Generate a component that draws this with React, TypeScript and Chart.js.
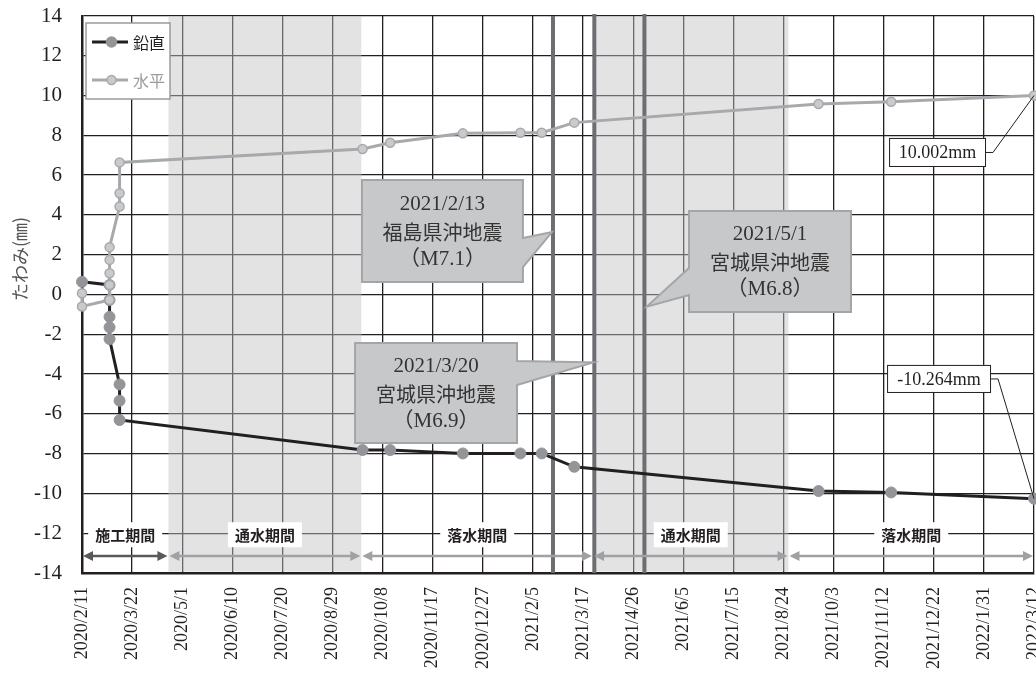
import React, { useEffect, useRef } from 'react';
import { Chart, registerables } from 'chart.js';

Chart.register(...registerables);

// ---------- data ----------
const START_DATE = '2020/2/11';
const END_DATE = '2022/3/12';
const TICK_STEP_DAYS = 40;
const Y_MIN = -14;
const Y_MAX = 14;
const Y_STEP = 2;

const seriesNames = ['鉛直', '水平'];

const verticalDates = ['2020/2/11', '2020/3/4', '2020/3/4', '2020/3/4', '2020/3/4', '2020/3/4', '2020/3/12', '2020/3/12', '2020/3/12', '2020/9/22', '2020/10/14', '2020/12/11', '2021/1/26', '2021/2/12', '2021/3/10', '2021/9/21', '2021/11/18', '2022/3/12'];
const verticalValues = [0.64, 0.48, -0.28, -1.12, -1.65, -2.24, -4.52, -5.34, -6.31, -7.82, -7.82, -7.99, -7.99, -7.99, -8.66, -9.88, -9.95, -10.264];

const horizontalDates = ['2020/2/11', '2020/2/11', '2020/3/4', '2020/3/4', '2020/3/4', '2020/3/4', '2020/3/4', '2020/3/12', '2020/3/12', '2020/3/12', '2020/9/22', '2020/10/14', '2020/12/11', '2021/1/26', '2021/2/12', '2021/3/10', '2021/9/21', '2021/11/18', '2022/3/12'];
const horizontalValues = [0.06, -0.6, -0.28, 0.48, 1.07, 1.74, 2.38, 4.42, 5.09, 6.64, 7.31, 7.63, 8.10, 8.13, 8.13, 8.64, 9.58, 9.69, 10.002];

const periodNames = ['施工期間', '通水期間', '落水期間', '通水期間', '落水期間'];
const periodStarts = ['2020/2/11', '2020/4/20', '2020/9/21', '2021/3/25', '2021/8/28'];
const periodEnds = ['2020/4/20', '2020/9/21', '2021/3/25', '2021/8/28', '2022/3/12'];
const periodShaded = [false, true, false, true, false];

const quakeDates = ['2021/2/13', '2021/3/20', '2021/5/1'];
const quakeNames = ['福島県沖地震', '宮城県沖地震', '宮城県沖地震'];
const quakeMagnitudes = ['（M7.1）', '（M6.9）', '（M6.8）'];
const quakeLineDates = ['2021/2/21', '2021/3/26', '2021/5/5'];

const endValueLabels = ['10.002mm', '-10.264mm'];
const yAxisTitle = 'たわみ(㎜)';

// ---------- helpers ----------
const toUTC = (s: string) => {
  const [y, m, d] = s.split('/').map(Number);
  return Date.UTC(y, m - 1, d);
};
const DAY = 86400000;
const dayOf = (s: string) => Math.round((toUTC(s) - toUTC(START_DATE)) / DAY);
const fmtDay = (n: number) => {
  const dt = new Date(toUTC(START_DATE) + n * DAY);
  return `${dt.getUTCFullYear()}/${dt.getUTCMonth() + 1}/${dt.getUTCDate()}`;
};
const xMax = dayOf(END_DATE);
const tickDays: number[] = [];
for (let d = 0; d <= xMax; d += TICK_STEP_DAYS) tickDays.push(d);

// ---------- styles ----------
const SERIF = '"Liberation Serif", "Noto Sans CJK JP", serif';
const JP = '"Noto Sans CJK JP", sans-serif';
const INK = '#231f20';
const BLACK_LINE = '#231f20';
const BLACK_MARK = '#939598';
const GRAY_LINE = '#a7a9ac';
const GRAY_MARK = '#c9cacc';

// callout geometry in data units (day, value)
const callouts = [
  { box: [223.5, 352, 5.76, 0.63], tip: [375.2, 3.14], base: [2.84, 1.38], side: 'right' },
  { box: [218, 347.3, -2.44, -7.47], tip: [408.2, -3.41], base: [-3.34, -4.55], side: 'right' },
  { box: [484.6, 613.9, 4.2, -0.88], tip: [450.8, -0.61], base: [1.33, -0.03], side: 'left' },
];
const valueBoxes = [
  { box: [644.3, 721.7, 7.87, 6.41], elbow: 7 },
  { box: [642.7, 725.7, -3.54, -4.95], elbow: 7 },
];

const zeroPadding = (s: any) => {
  s.paddingTop = 0;
  s.paddingBottom = 0;
  s.paddingLeft = 0;
  s.paddingRight = 0;
};

const overlayPlugin = {
  id: 'overlay',
  beforeDatasetsDraw(chart: any) {
    const { ctx, chartArea: a, scales } = chart;
    const x = scales.x;
    ctx.save();
    ctx.fillStyle = 'rgba(194,194,197,0.46)';
    periodShaded.forEach((s, i) => {
      if (!s) return;
      const x0 = x.getPixelForValue(dayOf(periodStarts[i]));
      const x1 = x.getPixelForValue(dayOf(periodEnds[i]));
      ctx.fillRect(x0, a.top, x1 - x0, a.bottom - a.top - 1.5);
    });
    ctx.strokeStyle = '#6d6e71';
    ctx.lineWidth = 4;
    quakeLineDates.forEach((d, i) => {
      const px = x.getPixelForValue(dayOf(d));
      ctx.beginPath();
      ctx.moveTo(px, a.top - (i === 0 ? 0 : 2));
      ctx.lineTo(px, a.bottom);
      ctx.stroke();
    });
    ctx.restore();
  },
  afterDatasetsDraw(chart: any) {
    const { ctx, chartArea: a, scales } = chart;
    const X = (v: number) => scales.x.getPixelForValue(v);
    const Y = (v: number) => scales.y.getPixelForValue(v);
    ctx.save();

    // callouts
    callouts.forEach((c, qi) => {
      const x0 = X(c.box[0]), x1 = X(c.box[1]), y0 = Y(c.box[2]), y1 = Y(c.box[3]);
      const tx = X(c.tip[0]), ty = Y(c.tip[1]);
      const b0 = Y(c.base[0]), b1 = Y(c.base[1]);
      ctx.beginPath();
      ctx.moveTo(x0, y0);
      ctx.lineTo(x1, y0);
      if (c.side === 'right') {
        ctx.lineTo(x1, b0);
        ctx.lineTo(tx, ty);
        ctx.lineTo(x1, b1);
      }
      ctx.lineTo(x1, y1);
      ctx.lineTo(x0, y1);
      if (c.side === 'left') {
        ctx.lineTo(x0, b1);
        ctx.lineTo(tx, ty);
        ctx.lineTo(x0, b0);
      }
      ctx.closePath();
      ctx.fillStyle = '#c7c8ca';
      ctx.fill();
      ctx.strokeStyle = '#a3a5a8';
      ctx.lineWidth = 2;
      ctx.stroke();
      const cx = (x0 + x1) / 2, cy = (y0 + y1) / 2 + 1;
      ctx.fillStyle = '#333';
      ctx.textAlign = 'center';
      ctx.textBaseline = 'middle';
      const lines = [quakeDates[qi], quakeNames[qi], quakeMagnitudes[qi]];
      lines.forEach((t, k) => {
        ctx.font = k === 1 ? `20px ${JP}` : `21px ${SERIF}`;
        ctx.fillText(t, cx, cy + (k - 1) * 27.5);
      });
    });

    // period arrows + labels
    const arrowY = Y(-13.15);
    const labelY = Y(-12.05);
    periodNames.forEach((name, i) => {
      const x0 = X(dayOf(periodStarts[i]));
      const x1 = X(dayOf(periodEnds[i]));
      const col = i === 0 ? '#58595b' : '#a0a1a4';
      ctx.strokeStyle = col;
      ctx.fillStyle = col;
      ctx.lineWidth = 2.5;
      const h = 10, w = 5;
      ctx.beginPath();
      ctx.moveTo(x0 + h - 1, arrowY);
      ctx.lineTo(x1 - h + 1, arrowY);
      ctx.stroke();
      ctx.beginPath();
      ctx.moveTo(x0 + 1, arrowY);
      ctx.lineTo(x0 + 1 + h, arrowY - w);
      ctx.lineTo(x0 + 1 + h, arrowY + w);
      ctx.closePath();
      ctx.fill();
      ctx.beginPath();
      ctx.moveTo(x1 - 1, arrowY);
      ctx.lineTo(x1 - 1 - h, arrowY - w);
      ctx.lineTo(x1 - 1 - h, arrowY + w);
      ctx.closePath();
      ctx.fill();
      const cx = (x0 + x1) / 2;
      ctx.font = `bold 15px ${JP}`;
      const tw = ctx.measureText(name).width;
      ctx.fillStyle = '#ffffff';
      ctx.fillRect(cx - tw / 2 - 7, labelY - 12, tw + 14, 25);
      ctx.fillStyle = INK;
      ctx.textAlign = 'center';
      ctx.textBaseline = 'middle';
      ctx.fillText(name, cx, labelY + 1);
    });

    // value boxes at the end
    const endVals = [horizontalValues[horizontalValues.length - 1], verticalValues[verticalValues.length - 1]];
    valueBoxes.forEach((vb, i) => {
      const x0 = X(vb.box[0]), x1 = X(vb.box[1]), y0 = Y(vb.box[2]), y1 = Y(vb.box[3]);
      const my = (y0 + y1) / 2;
      ctx.strokeStyle = INK;
      ctx.lineWidth = 1;
      ctx.beginPath();
      ctx.moveTo(x1, my);
      ctx.lineTo(x1 + vb.elbow, my);
      ctx.lineTo(X(xMax), Y(endVals[i]));
      ctx.stroke();
      ctx.fillStyle = '#ffffff';
      ctx.fillRect(x0, y0, x1 - x0, y1 - y0);
      ctx.strokeRect(x0 + 0.5, y0 + 0.5, x1 - x0 - 1, y1 - y0 - 1);
      ctx.fillStyle = INK;
      ctx.font = `18px ${SERIF}`;
      ctx.textAlign = 'center';
      ctx.textBaseline = 'middle';
      ctx.fillText(endValueLabels[i], (x0 + x1) / 2, my + 1);
    });

    // legend
    const lx = a.left + 4, ly = a.top + 7;
    ctx.fillStyle = '#ffffff';
    ctx.fillRect(lx, ly, 84, 76);
    ctx.strokeStyle = '#9a9b9e';
    ctx.lineWidth = 1.5;
    ctx.strokeRect(lx, ly, 84, 76);
    const entries = [
      { line: BLACK_LINE, mark: BLACK_MARK, border: BLACK_MARK, r: 5, text: INK, dy: 19 },
      { line: GRAY_LINE, mark: GRAY_MARK, border: GRAY_LINE, r: 4.5, text: '#9a9b9e', dy: 57 },
    ];
    entries.forEach((e, i) => {
      const yy = ly + e.dy;
      ctx.strokeStyle = e.line;
      ctx.lineWidth = 3;
      ctx.beginPath();
      ctx.moveTo(lx + 6, yy);
      ctx.lineTo(lx + 42, yy);
      ctx.stroke();
      ctx.beginPath();
      ctx.arc(lx + 25.5, yy, e.r, 0, Math.PI * 2);
      ctx.fillStyle = e.mark;
      ctx.fill();
      ctx.strokeStyle = e.border;
      ctx.lineWidth = 1.5;
      ctx.stroke();
      ctx.fillStyle = e.text;
      ctx.font = `16px ${JP}`;
      ctx.textAlign = 'left';
      ctx.textBaseline = 'middle';
      ctx.fillText(seriesNames[i], lx + 47, yy + 1);
    });

    // y title
    ctx.save();
    ctx.translate(20, 259);
    ctx.rotate(-Math.PI / 2);
    ctx.fillStyle = '#555';
    ctx.font = `18px ${JP}`;
    ctx.textAlign = 'center';
    ctx.textBaseline = 'middle';
    ctx.fillText(yAxisTitle, 0, 0);
    ctx.restore();

    ctx.restore();
  },
};

export default function App() {
  const ref = useRef<HTMLCanvasElement>(null);
  useEffect(() => {
    if (!ref.current) return;
    const chart = new Chart(ref.current, {
      type: 'line',
      data: {
        datasets: [
          {
            label: seriesNames[0],
            data: verticalDates.map((d, i) => ({ x: dayOf(d), y: verticalValues[i] })),
            borderColor: BLACK_LINE,
            borderWidth: 3,
            pointRadius: 5.5,
            pointBackgroundColor: BLACK_MARK,
            pointBorderColor: BLACK_MARK,
            pointBorderWidth: 1,
            tension: 0,
            clip: false,
            order: 2,
          },
          {
            label: seriesNames[1],
            data: horizontalDates.map((d, i) => ({ x: dayOf(d), y: horizontalValues[i] })),
            borderColor: GRAY_LINE,
            borderWidth: 3,
            pointRadius: 4.5,
            pointBackgroundColor: GRAY_MARK,
            pointBorderColor: GRAY_LINE,
            pointBorderWidth: 1.5,
            tension: 0,
            clip: false,
            order: 1,
          },
        ],
      },
      options: {
        animation: false,
        responsive: false,
        maintainAspectRatio: false,
        layout: { autoPadding: false, padding: { left: 0, top: 16, right: 2, bottom: 0 } },
        plugins: { legend: { display: false }, tooltip: { enabled: false } },
        scales: {
          x: {
            type: 'linear',
            min: 0,
            max: xMax,
            afterBuildTicks: (s: any) => {
              s.ticks = tickDays.map((v) => ({ value: v }));
            },
            afterFit: (s: any) => {
              s.height = 102;
              zeroPadding(s);
            },
            ticks: {
              autoSkip: false,
              minRotation: 90,
              maxRotation: 90,
              padding: 14,
              color: INK,
              font: { family: SERIF, size: 18 },
              callback: (v: any) => fmtDay(Number(v)),
            },
            grid: { color: INK, lineWidth: 1.3, drawTicks: false },
            border: { color: INK, width: 2.5 },
          },
          y: {
            min: Y_MIN,
            max: Y_MAX,
            afterFit: (s: any) => {
              s.width = 82;
              zeroPadding(s);
            },
            ticks: {
              stepSize: Y_STEP,
              padding: 20,
              color: INK,
              font: { family: SERIF, size: 21 },
            },
            grid: { color: INK, lineWidth: 1.3, drawTicks: false },
            border: { color: INK, width: 2.5 },
          },
        },
      },
      plugins: [overlayPlugin],
    } as any);
    return () => chart.destroy();
  }, []);
  return (
    <div style={{ position: 'fixed', left: 0, top: 0, width: 1036, height: 675, background: '#fff' }}>
      <canvas ref={ref} width={1036} height={675} style={{ width: 1036, height: 675, display: 'block' }} />
    </div>
  );
}
